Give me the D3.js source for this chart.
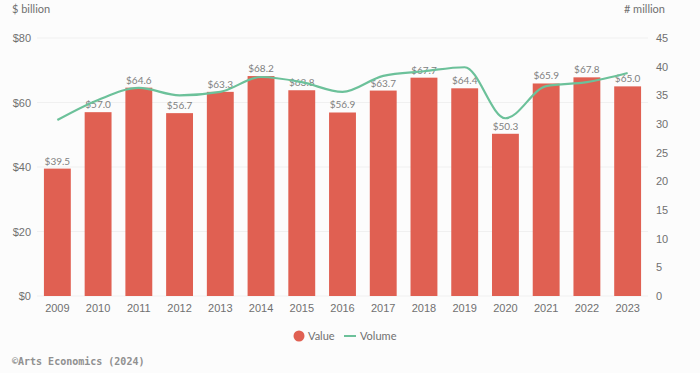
<!DOCTYPE html>
<html>
<head>
<meta charset="utf-8">
<script src="https://cdn.jsdelivr.net/npm/d3@7"></script>
<style>
  body { margin: 0; background: #fcfcfc; }
  svg { font-family: Lato, "Open Sans", sans-serif; }
  .tick text { fill: #707070; font-size: 11px; }
  .label { fill: #808080; font-size: 10px; }
</style>
</head>
<body>
<svg id="chart" width="700" height="373"></svg>
<script>
// data
let years = ["2009","2010","2011","2012","2013","2014","2015","2016","2017","2018","2019","2020","2021","2022","2023"];
let values = [39.5, 57.0, 64.6, 56.7, 63.3, 68.2, 63.8, 56.9, 63.7, 67.7, 64.4, 50.3, 65.9, 67.8, 65.0];
let volumes = [30.7, 34.2, 36.3, 35.0, 35.6, 38.2, 37.3, 35.6, 38.4, 39.2, 39.9, 31.0, 36.6, 37.3, 38.9];
let leftTicks = [0, 20, 40, 60, 80];
let rightTicks = [0, 5, 10, 15, 20, 25, 30, 35, 40, 45];

let margin = {top: 38, right: 52, bottom: 77, left: 37},
    width = 700 - margin.left - margin.right,
    height = 373 - margin.top - margin.bottom;

let svg = d3.select("#chart");
let g = svg.append("g")
    .attr("transform", "translate(" + margin.left + "," + margin.top + ")");

let xScale = d3.scaleBand()
    .domain(years)
    .range([0, width])
    .paddingInner(0.34)
    .paddingOuter(0.17);

let yScale = d3.scaleLinear()
    .domain([0, 80])
    .range([height, 0]);

let y2Scale = d3.scaleLinear()
    .domain([0, 45])
    .range([height, 0]);

// gridlines
g.selectAll(".grid")
    .data(leftTicks)
    .enter().append("line")
    .attr("class", "grid")
    .attr("x1", 0)
    .attr("x2", width)
    .attr("y1", d => yScale(d))
    .attr("y2", d => yScale(d))
    .style("stroke", "#f0f0f0")
    .style("stroke-width", 1);

// bars
g.selectAll(".bar")
    .data(values)
    .enter().append("rect")
    .attr("class", "bar")
    .attr("x", (d, i) => xScale(years[i]))
    .attr("width", xScale.bandwidth())
    .attr("y", d => yScale(d))
    .attr("height", d => height - yScale(d))
    .style("fill", "#e06052");

// value labels
g.selectAll(".label")
    .data(values)
    .enter().append("text")
    .attr("class", "label")
    .attr("x", (d, i) => xScale(years[i]) + xScale.bandwidth() / 2)
    .attr("y", d => yScale(d) - 4)
    .attr("text-anchor", "middle")
    .text(d => "$" + d.toFixed(1));

// volume line
let line = d3.line()
    .x((d, i) => xScale(years[i]) + xScale.bandwidth() / 2)
    .y(d => y2Scale(d))
    .curve(d3.curveMonotoneX);

g.append("path")
    .datum(volumes)
    .attr("d", line)
    .style("fill", "none")
    .style("stroke", "#6cc19a")
    .style("stroke-width", 2.2);

// axes
let xAxis = g.append("g")
    .attr("transform", "translate(0," + height + ")")
    .call(d3.axisBottom(xScale).tickSize(0).tickPadding(8));
xAxis.select(".domain").remove();

let yAxis = g.append("g")
    .call(d3.axisLeft(yScale).tickValues(leftTicks).tickSize(0).tickPadding(6)
        .tickFormat(d => "$" + d));
yAxis.select(".domain").remove();

let y2Axis = g.append("g")
    .attr("transform", "translate(" + width + ",0)")
    .call(d3.axisRight(y2Scale).tickValues(rightTicks).tickSize(0).tickPadding(8));
y2Axis.select(".domain").remove();

// axis titles
svg.append("text")
    .attr("x", 12).attr("y", 13)
    .style("fill", "#707070").style("font-size", "11px")
    .text("$ billion");
svg.append("text")
    .attr("x", 665).attr("y", 13)
    .attr("text-anchor", "end")
    .style("fill", "#707070").style("font-size", "11px")
    .text("# million");

// legend
let legend = svg.append("g").attr("transform", "translate(299,336)");
legend.append("circle").attr("r", 5.5).style("fill", "#e06052");
legend.append("text").attr("x", 9).attr("y", 4)
    .style("fill", "#707070").style("font-size", "11px").text("Value");
legend.append("line").attr("x1", 45).attr("x2", 57)
    .style("stroke", "#6cc19a").style("stroke-width", 2);
legend.append("text").attr("x", 61).attr("y", 4)
    .style("fill", "#707070").style("font-size", "11px").text("Volume");

// source
svg.append("text")
    .attr("x", 12).attr("y", 365)
    .style("font-family", "'DejaVu Sans Mono', monospace")
    .style("font-weight", "bold")
    .style("fill", "#909090").style("font-size", "10px")
    .text("©Arts Economics (2024)");
</script>
</body>
</html>
